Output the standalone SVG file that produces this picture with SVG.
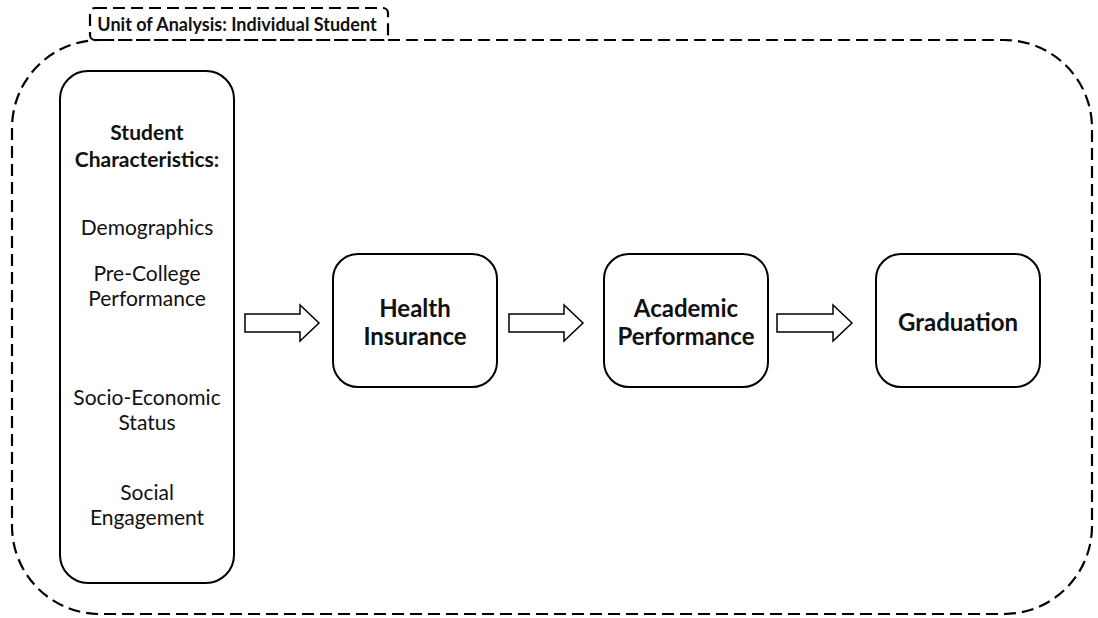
<svg xmlns="http://www.w3.org/2000/svg" width="1098" height="618" viewBox="0 0 1098 618">
<style>
.dash{fill:none;stroke:#000;stroke-width:2.2;stroke-dasharray:12 6}
.box{fill:#fff;stroke:#000;stroke-width:2}
.arr{fill:#fff;stroke:#000;stroke-width:1.5;stroke-linejoin:miter}
text{font-family:Lato,"Noto Sans",sans-serif;fill:#111;text-anchor:middle}
.b{font-weight:bold}
.lab{font-size:18px}
.lt{font-size:21px}
.big{font-size:24px}
</style>
<rect width="1098" height="618" fill="#fff"/>
<g id="frame">
<rect class="dash" x="12" y="40" width="1080" height="574" rx="88" ry="88"/>
<rect x="90" y="8" width="298" height="32" rx="5" fill="#fff" class="dash"/>
<text class="b lab" x="237" y="31">Unit of Analysis: Individual Student</text>
</g>
<g id="student">
<rect class="box" x="60" y="71" width="174" height="512" rx="28"/>
<text class="b lt" x="147" y="140">Student</text>
<text class="b lt" x="147" y="167">Characteristics:</text>
<text class="lt" x="147" y="235">Demographics</text>
<text class="lt" x="147" y="281">Pre-College</text>
<text class="lt" x="147" y="306">Performance</text>
<text class="lt" x="147" y="405">Socio-Economic</text>
<text class="lt" x="147" y="430">Status</text>
<text class="lt" x="147" y="500">Social</text>
<text class="lt" x="147" y="525">Engagement</text>
</g>
<g id="health">
<rect class="box" x="333" y="254" width="164" height="133" rx="25"/>
<text class="b big" x="415" y="317">Health</text>
<text class="b big" x="415" y="345">Insurance</text>
</g>
<g id="academic">
<rect class="box" x="604" y="254" width="164" height="133" rx="25"/>
<text class="b big" x="686" y="317">Academic</text>
<text class="b big" x="686" y="345">Performance</text>
</g>
<g id="graduation">
<rect class="box" x="876" y="254" width="164" height="133" rx="25"/>
<text class="b big" x="958" y="331">Graduation</text>
</g>
<g id="connectors">
<polygon class="arr" points="245,314 300,314 300,305 319,323 300,341 300,332 245,332"/>
<polygon class="arr" points="509,314 564,314 564,305 583,323 564,341 564,332 509,332"/>
<polygon class="arr" points="777,314 833,314 833,305 852,323 833,341 833,332 777,332"/>
</g>
</svg>
